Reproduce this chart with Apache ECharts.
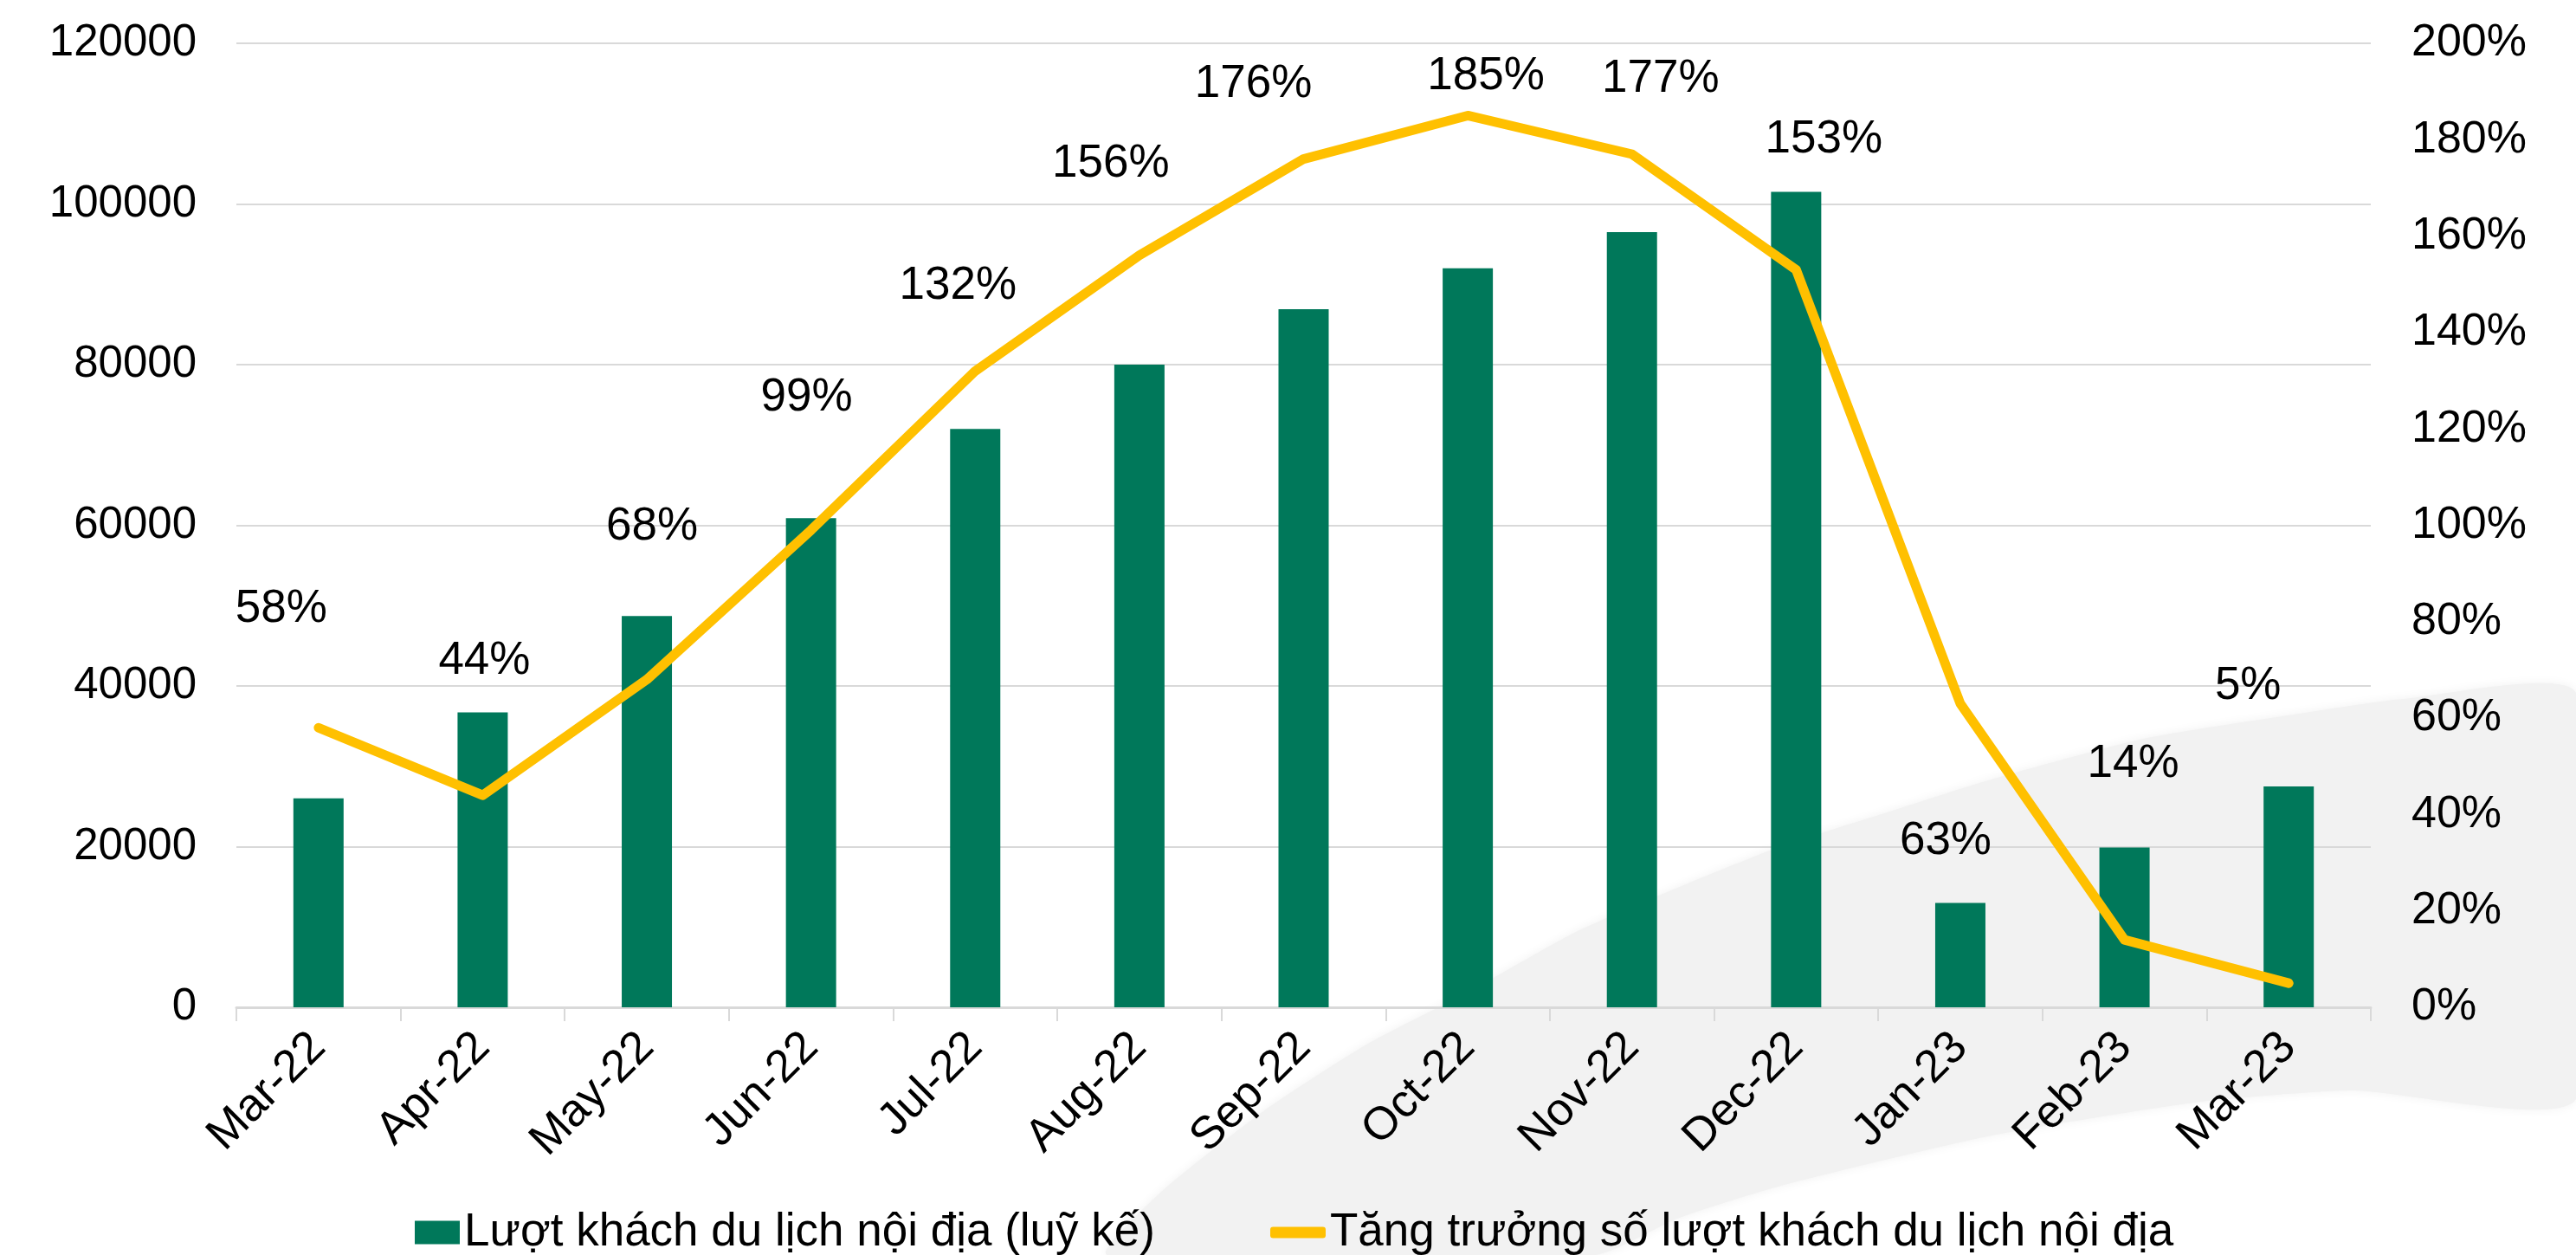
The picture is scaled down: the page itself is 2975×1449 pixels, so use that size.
<!DOCTYPE html>
<html>
<head>
<meta charset="utf-8">
<script src="https://cdn.jsdelivr.net/npm/echarts@6/dist/echarts.min.js"></script>
<style>
  html, body { margin: 0; padding: 0; background: #fff; }
  #chart { width: 2975px; height: 1449px; }
</style>
</head>
<body>
<div id="chart"></div>
<script>
const months = ['Mar-22', 'Apr-22', 'May-22', 'Jun-22', 'Jul-22', 'Aug-22', 'Sep-22',
  'Oct-22', 'Nov-22', 'Dec-22', 'Jan-23', 'Feb-23', 'Mar-23']
// lượt khách luỹ kế (trục trái)
const visitors = [26000, 36700, 48700, 60900, 72000, 80000, 86900, 92000, 96500, 101500, 13000, 19900, 27500]
// tăng trưởng % (trục phải)
const growth = [58, 44, 68, 99, 132, 156, 176, 185, 177, 153, 63, 14, 5]
const leftTicks = { min: 0, max: 120000, interval: 20000 }
const rightTicks = { min: 0, max: 200, interval: 20 }

const barName = 'Lượt khách du lịch nội địa (luỹ kế)'
const lineName = 'Tăng trưởng số lượt khách du lịch nội địa'

// vị trí nhãn như trong bản gốc (dịch so với điểm)
const labelShift = [[-43, -137], [2, -155], [6, -176], [-5, -153], [-20, -98], [-33, -105],
  [-58, -86], [21, -45], [33, -87], [32, -150], [-17, 159], [10, -203], [-47, -343]]

const FONT = "'Liberation Sans', Arial, sans-serif"
const GRID_COLOR = '#D9D9D9'

const chart = echarts.init(document.getElementById('chart'))

const option = {
  animation: false,
  backgroundColor: '#fff',
  textStyle: { fontFamily: FONT, color: '#000' },
  graphic: [{
    // mảng nền xám phía sau
    type: 'polygon',
    z: -100,
    silent: true,
    shape: {
      points: [[1279, 1449], [1339, 1378], [1459, 1283], [1578, 1206], [1698, 1144], [1818, 1077],
        [1937, 1025], [2057, 977], [2176, 939], [2296, 901], [2475, 853], [2655, 824], [2775, 807],
        [2975, 800], [2975, 1269], [2715, 1259], [2535, 1273], [2296, 1312], [2057, 1369],
        [1937, 1407], [1842, 1449]],
      smooth: 0.2
    },
    style: { fill: '#F2F2F2', shadowBlur: 12, shadowColor: '#F2F2F2' }
  }],
  grid: { left: 273, right: 237, top: 50, bottom: 286 },
  legend: [
    {
      data: [barName],
      left: 474,
      top: 1388,
      itemWidth: 52,
      itemHeight: 27,
      itemGap: 0,
      textStyle: { fontFamily: FONT, fontSize: 53, color: '#000', lineHeight: 60 },
      icon: 'rect'
    },
    {
      data: [lineName],
      left: 1462,
      top: 1388,
      itemWidth: 64,
      itemHeight: 13,
      itemGap: 0,
      textStyle: { fontFamily: FONT, fontSize: 53, color: '#000', lineHeight: 60 },
      icon: 'roundRect'
    }
  ],
  xAxis: {
    type: 'category',
    data: months,
    boundaryGap: true,
    axisLine: { lineStyle: { color: GRID_COLOR, width: 3 } },
    axisTick: { show: true, length: 16, lineStyle: { color: GRID_COLOR, width: 2 } },
    axisLabel: {
      rotate: 45,
      margin: 38,
      fontSize: 53,
      fontFamily: FONT,
      color: '#000',
      interval: 0
    }
  },
  yAxis: [
    {
      type: 'value',
      ...leftTicks,
      position: 'left',
      axisLine: { show: false },
      axisTick: { show: false },
      splitLine: { show: true, lineStyle: { color: GRID_COLOR, width: 2 } },
      axisLabel: {
        fontSize: 51,
        fontFamily: FONT,
        color: '#000',
        margin: 46,
        formatter: v => String(v)
      }
    },
    {
      type: 'value',
      ...rightTicks,
      position: 'right',
      axisLine: { show: false },
      axisTick: { show: false },
      splitLine: { show: false },
      axisLabel: { fontSize: 52, fontFamily: FONT, color: '#000', margin: 47, formatter: '{value}%' }
    }
  ],
  series: [
    {
      name: barName,
      type: 'bar',
      yAxisIndex: 0,
      data: visitors,
      barWidth: 58,
      itemStyle: { color: '#00785A' }
    },
    {
      name: lineName,
      type: 'line',
      yAxisIndex: 1,
      data: growth.map((v, i) => ({
        value: v,
        label: { offset: labelShift[i] }
      })),
      symbol: 'circle',
      symbolSize: 0,
      showSymbol: true,
      lineStyle: { color: '#FFC000', width: 11, cap: 'round', join: 'round' },
      itemStyle: { color: '#FFC000' },
      label: {
        show: true,
        position: 'inside',
        formatter: '{c}%',
        fontSize: 53,
        fontFamily: FONT,
        color: '#000'
      },
      z: 3
    }
  ]
}

chart.setOption(option)
</script>
</body>
</html>
